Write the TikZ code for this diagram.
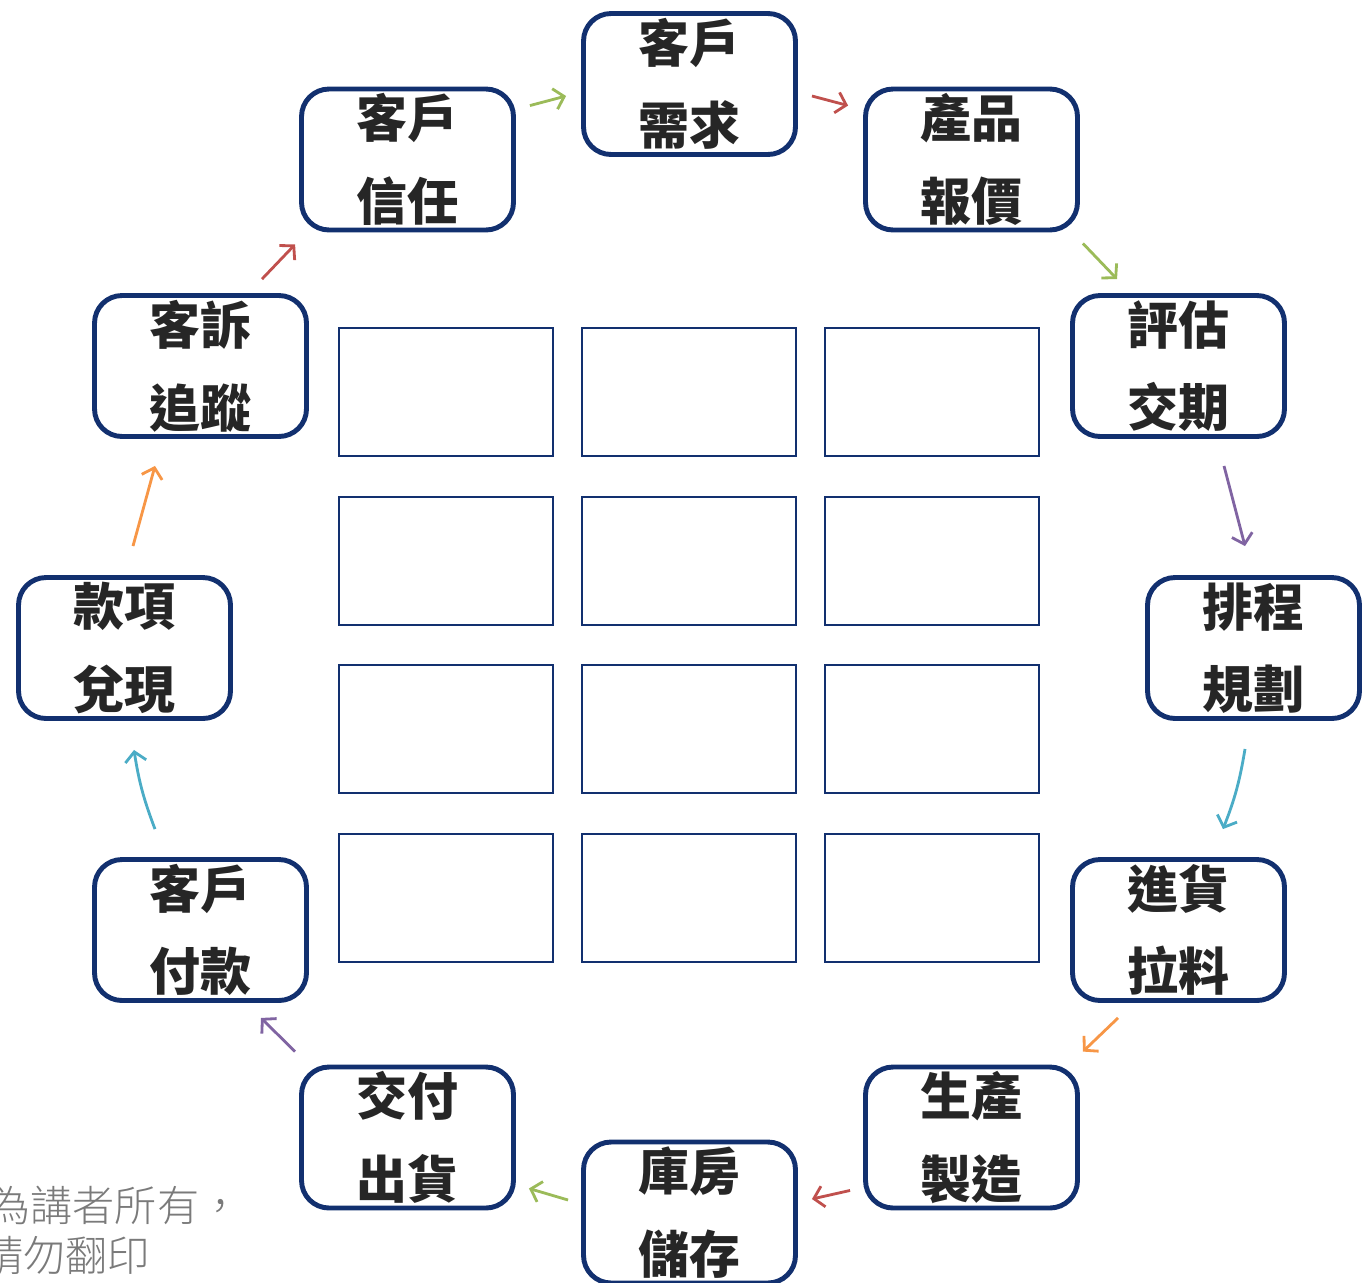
\documentclass[tikz,border=0pt]{standalone}
\usepackage{fontspec}
\usetikzlibrary{arrows.meta}
\newfontfamily\cjk{Noto Sans CJK TC}
\newfontfamily\cjklight{Noto Sans CJK TC Light}
\definecolor{navy}{HTML}{12306F}
\definecolor{ogreen}{HTML}{9BBB59}
\definecolor{ored}{HTML}{C0504D}
\definecolor{opurple}{HTML}{8064A2}
\definecolor{ocyan}{HTML}{4BACC6}
\definecolor{oorange}{HTML}{F79646}
\begin{document}
\begin{tikzpicture}[x=0.02cm, y=-0.02cm,
    step box/.style={draw=navy, line width=2.8pt, rounded corners=0.55cm,
        minimum width=4.24cm, minimum height=2.82cm, inner sep=0pt,
        align=center, text=black!85, font=\cjk\bfseries\fontsize{29}{47}\selectfont},
    cell/.style={draw=navy, line width=1.2pt},
    arr/.style={line width=1.6pt, -{Straight Barb[length=5.5pt,width=12pt]}}]
    \useasboundingbox (0,0) rectangle (1365,1282);

    \node[step box] (need)  at (689.5,84)    {客戶\\需求};
    \node[step box] (quote) at (971.5,159.5) {產品\\報價};
    \node[step box] (lead)  at (1178.5,366)  {評估\\交期};
    \node[step box] (plan)  at (1253.5,648)  {排程\\規劃};
    \node[step box] (stock) at (1178.5,930)  {進貨\\拉料};
    \node[step box] (make)  at (971.5,1137.5) {生產\\製造};
    \node[step box] (store) at (689.5,1212.5) {庫房\\儲存};
    \node[step box] (ship)  at (407.5,1137.5) {交付\\出貨};
    \node[step box] (pay)   at (200.5,930)   {客戶\\付款};
    \node[step box] (cash)  at (124.5,648)   {款項\\兌現};
    \node[step box] (track) at (200.5,366)   {客訴\\追蹤};
    \node[step box] (trust) at (407.5,159.5) {客戶\\信任};

    % empty grid in the middle
    \foreach \x in {339,582,825}
    \foreach \y in {328,497,665,834}
    \draw[cell] (\x,\y) rectangle ++(214,128);

    \draw[arr,ogreen]  ([shift={(14,19)}]trust.north east) -- ([shift={(-15,12)}]need.west);
    \draw[arr,ored]    ([shift={(14,12)}]need.east) -- ([shift={(-15,19)}]quote.north west);
    \draw[arr,ogreen]  ([shift={(3,11)}]quote.south east) -- ([shift={(-61.5,-14)}]lead.north);
    \draw[arr,opurple] ([shift={(45.5,27)}]lead.south) -- ([shift={(-8.5,-29)}]plan.north);
    \draw[arr,ocyan]   ([shift={(-8.5,28)}]plan.south) to[bend left=6] ([shift={(44.5,-28)}]stock.north);
    \draw[arr,oorange] ([shift={(-60.5,15)}]stock.south) -- ([shift={(3,-13)}]make.north east);
    \draw[arr,ored]    ([shift={(-13,-20)}]make.south west) -- ([shift={(14,-13.5)}]store.east);
    \draw[arr,ogreen]  ([shift={(-13,-12.5)}]store.west) -- ([shift={(13,-22)}]ship.south east);
    \draw[arr,opurple] ([shift={(-4,-13)}]ship.north west) -- ([shift={(60.5,15)}]pay.south);
    \draw[arr,ocyan]   ([shift={(-45.5,-28)}]pay.north) to[bend left=6] ([shift={(9.5,29)}]cash.south);
    \draw[arr,oorange] ([shift={(8.5,-29)}]cash.north) -- ([shift={(-45.5,27)}]track.south);
    \draw[arr,ored]    ([shift={(61.5,-14)}]track.north) -- ([shift={(-4,12)}]trust.south west);

    \node[anchor=west, inner sep=0pt, text=black!52, font=\cjklight\fontsize{24}{24}\selectfont]
        (note1) at (-12,1205) {為講者所有，};
    \node[anchor=west, inner sep=0pt, text=black!52, font=\cjklight\fontsize{24}{24}\selectfont]
        (note2) at (-19,1256) {請勿翻印};
\end{tikzpicture}
\end{document}
